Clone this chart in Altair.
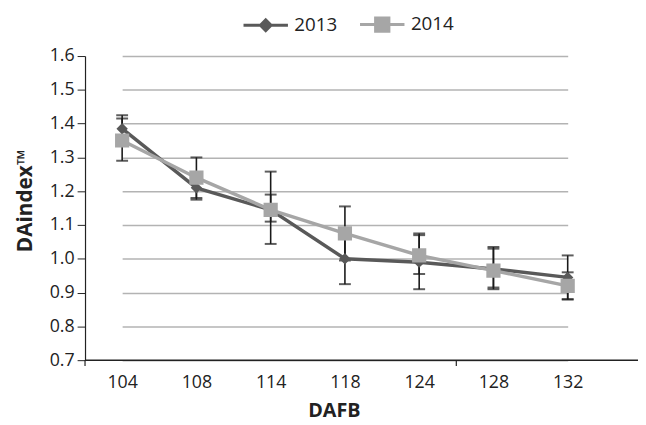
import altair as alt
import pandas as pd

cats = ["104", "108", "114", "118", "124", "128", "132"]
years = ["2013", "2014"]
mean_2013 = [1.385, 1.21, 1.145, 1.00, 0.99, 0.97, 0.945]
hi_2013 = [1.425, 1.245, 1.19, 1.075, 1.07, 1.03, 1.01]
lo_2013 = [1.345, 1.175, 1.11, 0.925, 0.91, 0.91, 0.88]
mean_2014 = [1.35, 1.24, 1.145, 1.075, 1.01, 0.965, 0.92]
hi_2014 = [1.415, 1.30, 1.258, 1.155, 1.075, 1.035, 0.96]
lo_2014 = [1.29, 1.18, 1.044, 0.995, 0.955, 0.915, 0.88]
y_ticks = [0.7, 0.8, 0.9, 1.0, 1.1, 1.2, 1.3, 1.4, 1.5, 1.6]

rows = []
for yr, m, h, l in [("2013", mean_2013, hi_2013, lo_2013), ("2014", mean_2014, hi_2014, lo_2014)]:
    for c, mv, hv, lv in zip(cats, m, h, l):
        rows.append({"DAFB": c, "Year": yr, "v": mv, "hi": hv, "lo": lv})
df = pd.DataFrame(rows)

FONT = "Open Sans"
dark = "#595959"
light = "#a6a6a6"
W, H = 560, 308

xs = alt.Scale(type="point", domain=cats, range=[37.6, 488.8], padding=0)
ys = alt.Scale(domain=[0.7, 1.6], nice=False, zero=False)
colscale = alt.Scale(domain=years, range=[dark, light])

x_axis = alt.Axis(title="DAFB", domain=False, ticks=False, labelAngle=0,
                  labelFont=FONT, labelFontSize=18, labelColor="#222",
                  labelPadding=14, titleFont=FONT, titleFontSize=20,
                  titleFontWeight="bold", titleColor="#222", titlePadding=9,
                  titleX=252)
y_axis = alt.Axis(title="DAindex™", values=y_ticks, tickCount=10,
                  format=".1f", labelFont=FONT, labelFontSize=18, labelColor="#222",
                  labelOverlap=False, labelPadding=3, tickSize=8, tickColor="#222",
                  domainColor="#222", domainWidth=1.2, gridColor="#b3b3b3", gridWidth=1.5,
                  titleFont=FONT, titleFontSize=21, titleFontWeight="bold",
                  titleColor="#222", titlePadding=14, titleY=146)

def X():
    return alt.X("DAFB:O", scale=xs, axis=x_axis)

def Y(f):
    return alt.Y(f, scale=ys, axis=y_axis)

base = alt.Chart(df)

bars = base.mark_rule(color="#1a1a1a", strokeWidth=1.6).encode(
    x=X(), y=Y("lo:Q"), y2="hi:Q")
cap_hi = base.mark_tick(color="#1a1a1a", size=12, thickness=2).encode(x=X(), y=Y("hi:Q"))
cap_lo = base.mark_tick(color="#1a1a1a", size=12, thickness=2).encode(x=X(), y=Y("lo:Q"))

# marker paths with a horizontal stroke-only segment (visible in legend only)
sym_2013 = "M-1,0L1,0M-0.24,0L0,-0.24L0.24,0L0,0.24Z"
sym_2014 = "M-1,0L1,0M-0.3,-0.3L0.3,-0.3L0.3,0.3L-0.3,0.3Z"

legend = alt.Legend(title=None, orient="none", legendX=159, legendY=-56, direction="horizontal",
                    labelFont=FONT, labelFontSize=19, labelColor="#222", symbolSize=2025,
                    symbolStrokeWidth=3, symbolOpacity=1, columnPadding=16, labelOffset=5)

lines = base.mark_line(strokeWidth=3.5).encode(
    x=X(), y=Y("v:Q"),
    color=alt.Color("Year:N", scale=colscale, legend=legend))

pts = base.mark_point(filled=False, strokeWidth=0, opacity=1, size=2300).encode(
    x=X(), y=Y("v:Q"),
    color=alt.Color("Year:N", scale=colscale, legend=legend),
    fill=alt.Fill("Year:N", scale=colscale, legend=legend),
    shape=alt.Shape("Year:N", scale=alt.Scale(domain=years, range=[sym_2013, sym_2014]), legend=legend))

xline = alt.Chart(pd.DataFrame({"v": [0.7]})).mark_rule(color="#222", strokeWidth=1.5).encode(
    y=Y("v:Q"), x=alt.value(0), x2=alt.value(W))
xtick0 = alt.Chart(pd.DataFrame({"v": [0.7]})).mark_rule(color="#222", strokeWidth=1.2).encode(
    x=alt.value(0), y=alt.value(H), y2=alt.value(H + 6))
xtick1 = alt.Chart(pd.DataFrame({"v": [0.7]})).mark_rule(color="#222", strokeWidth=1.2).encode(
    x=alt.value(376), y=alt.value(H), y2=alt.value(H + 6))

chart = alt.layer(bars, cap_hi, cap_lo, lines, pts, xline, xtick0, xtick1).properties(
    width=W, height=H, background="white",
    autosize=alt.AutoSizeParams(type="none"),
    padding={"left": 78, "top": 46, "right": 0, "bottom": 63},
).configure_view(stroke=None)

chart.save("out.html", embed_options={"renderer": "svg", "actions": False})
